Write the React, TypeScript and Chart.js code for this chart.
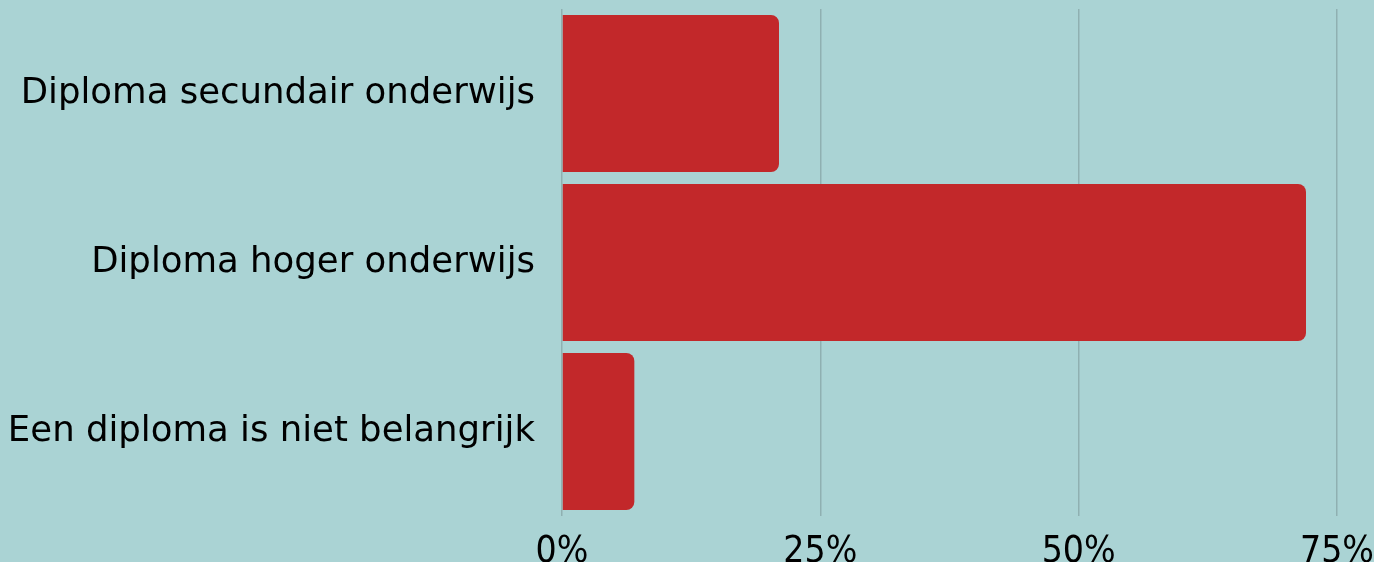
import React, { useEffect, useRef } from "react";
import { Chart, registerables } from "chart.js";

Chart.register(...registerables);

const categories = ["Diploma secundair onderwijs", "Diploma hoger onderwijs", "Een diploma is niet belangrijk"];
const values = [21, 72, 7];
const xTicks = [0, 25, 50, 75];

export default function App() {
  const ref = useRef<HTMLCanvasElement | null>(null);
  useEffect(() => {
    document.body.style.margin = "0";
    document.body.style.background = "#aad3d4";
    const font = "DejaVu Sans";
    const chart = new Chart(ref.current!, {
      type: "bar",
      data: {
        labels: categories,
        datasets: [
          {
            data: values,
            backgroundColor: "#c2282a",
            borderRadius: 8,
            borderSkipped: "start",
            barPercentage: 0.93,
            categoryPercentage: 1,
          },
        ],
      },
      options: {
        indexAxis: "y",
        animation: false,
        responsive: false,
        layout: { padding: { top: 9, right: 37, left: 0, bottom: 0 } },
        plugins: { legend: { display: false }, tooltip: { enabled: false } },
        scales: {
          x: {
            min: 0,
            max: 75,
            afterBuildTicks: (s: any) => {
              s.ticks = xTicks.map((v) => ({ value: v }));
            },
            afterFit: (s: any) => {
              s.height = 46;
              s.paddingLeft = 0;
              s.paddingRight = 0;
            },
            grid: { color: "#8fb0b1", lineWidth: 1.5, drawTicks: false },
            border: { display: false },
            ticks: {
              color: "#000",
              font: { family: "'Liberation Sans Narrow', 'DejaVu Sans Condensed', sans-serif", size: 37 },
              padding: 14,
              callback: (v: any) => v + "%",
              maxRotation: 0,
            },
          },
          y: {
            grid: { display: false },
            border: { display: false },
            afterFit: (s: any) => {
              s.width = 562;
              s.paddingTop = 0;
              s.paddingBottom = 0;
            },
            ticks: {
              color: "#000",
              font: { family: font, size: 35.5 },
              padding: 19,
            },
          },
        },
      },
    });
    return () => chart.destroy();
  }, []);
  return (
    <div style={{ width: 1374, height: 562, background: "#aad3d4" }}>
      <canvas ref={ref} width={1374} height={562} style={{ display: "block" }} />
    </div>
  );
}
